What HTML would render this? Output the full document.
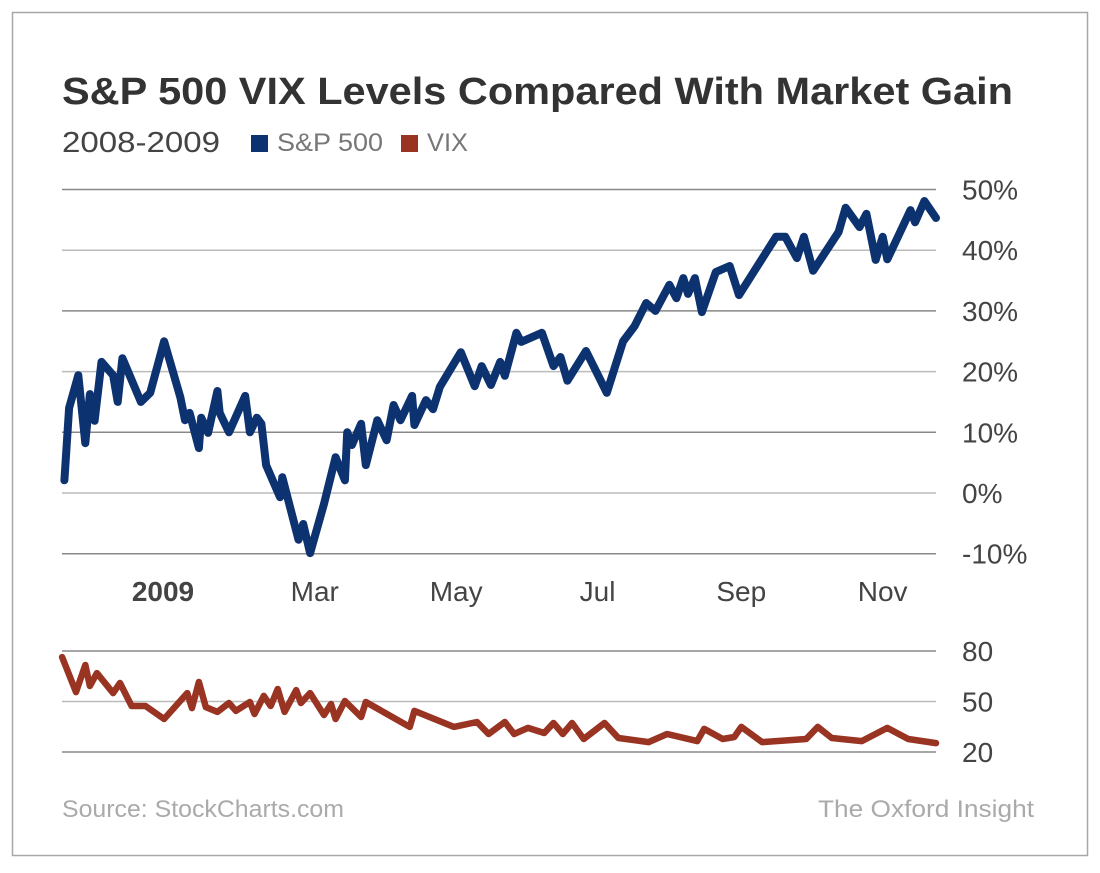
<!DOCTYPE html>
<html><head><meta charset="utf-8"><style>
body{margin:0;background:#fff;width:1100px;height:868px;overflow:hidden;font-family:"Liberation Sans",Arial,sans-serif}
</style></head><body>
<svg id="chart" width="1100" height="868" xmlns="http://www.w3.org/2000/svg">
<rect x="12.5" y="12.5" width="1075" height="843" fill="#fff" stroke="#a8a8a8" stroke-width="1.5"/>
<text x="62" y="104" font-size="38" font-weight="bold" fill="#333" textLength="951" lengthAdjust="spacingAndGlyphs">S&amp;P 500 VIX Levels Compared With Market Gain</text>
<text x="62" y="152" font-size="29" fill="#444" textLength="158" lengthAdjust="spacingAndGlyphs">2008-2009</text>
<rect x="251" y="135" width="17" height="17" fill="#0d3270"/>
<text x="277" y="151" font-size="25" fill="#777" textLength="106" lengthAdjust="spacingAndGlyphs">S&amp;P 500</text>
<rect x="401" y="135" width="17" height="17" fill="#993322"/>
<text x="427" y="151" font-size="25" fill="#777" textLength="41" lengthAdjust="spacingAndGlyphs">VIX</text>
<g id="grid"></g>
<g id="marks"></g>
<text x="62" y="817" font-size="24" fill="#aaa" textLength="282" lengthAdjust="spacingAndGlyphs">Source: StockCharts.com</text>
<text x="818" y="817" font-size="24" fill="#aaa" textLength="216" lengthAdjust="spacingAndGlyphs">The Oxford Insight</text>
</svg>
<script>
// S&P 500 % gain (days from Jan 1 2009)
const spDays=[-49,-47,-43,-40,-38,-36,-33,-28,-26,-24,-16,-12,-6,1,3,5,9,10,13,17,18,22,29,31,34,36,38,44,45,52,54,57,63,68,72,73,75,79,81,86,90,93,96,101,102,107,110,113,122,128,131,135,139,141,146,148,157,162,165,168,176,185,192,197,202,206,212,215,218,220,223,226,232,238,242,258,262,267,270,274,285,288,294,297,301,304,306,316,318,322,327];
const spValues=[2.1,14.0,19.4,8.2,16.3,11.9,21.6,19.4,15.0,22.2,15.0,16.5,25.0,15.8,12.0,13.2,7.4,12.4,9.9,16.8,13.2,10.0,16.0,10.0,12.4,11.4,4.6,-0.7,2.6,-7.7,-5.1,-9.9,-1.8,5.9,2.1,10.0,7.9,11.4,4.6,12.0,8.7,14.5,12.0,16.0,11.2,15.3,13.8,17.5,23.2,17.6,20.9,17.8,21.6,19.3,26.4,24.9,26.4,20.9,22.4,18.5,23.4,16.5,25.0,27.5,31.3,30.0,34.3,32.1,35.4,32.8,35.4,29.8,36.4,37.4,32.6,42.2,42.2,38.7,42.2,36.6,43.0,47.0,43.8,46.0,38.4,42.2,38.5,46.6,44.6,48.1,45.3];
const vixDays=[-50,-44,-40,-38,-35,-28,-25,-20,-14,-6,4,6,9,12,17,22,25,31,33,37,40,43,46,51,53,57,63,66,68,72,79,81,100,102,119,129,134,141,145,151,158,162,166,170,175,184,190,203,211,224,227,235,240,243,252,271,276,282,295,306,315,327];
const vixValues=[76.4,55.6,71.7,59.2,66.9,55.0,61.0,47.3,47.3,39.6,55.0,46.1,61.6,46.7,43.8,49.1,44.4,49.7,42.6,53.3,47.3,57.4,43.8,56.8,49.1,55.0,42.0,48.5,39.6,50.3,40.8,49.7,34.9,44.4,34.9,37.8,30.7,37.8,30.7,34.3,31.3,37.2,30.7,37.2,27.7,37.2,28.3,25.9,30.7,26.5,33.7,27.7,28.9,34.9,25.9,27.7,34.9,28.3,26.5,34.3,27.7,25.3];
const spTicks=[50,40,30,20,10,0,-10];
const spTickLabels=["50%","40%","30%","20%","10%","0%","-10%"];
const vixTicks=[80,50,20];
const monthDays=[0,59,120,181,243,304];
const monthLabels=["2009","Mar","May","Jul","Sep","Nov"];

const NS="http://www.w3.org/2000/svg";
const xS=d=>178+d*2.318;
const ySp=v=>493-v*6.07;
const yVix=v=>752-(v-20)*101/60;
const grid=document.getElementById('grid'),marks=document.getElementById('marks');
function mk(tag,attrs,parent){const e=document.createElementNS(NS,tag);for(const k in attrs)e.setAttribute(k,attrs[k]);parent.appendChild(e);return e;}
spTicks.forEach((t,i)=>{
  const l=mk('line',{x1:62,x2:936,y1:ySp(t),y2:ySp(t),stroke:i%2?'#bbb':'#888','stroke-width':1.5},grid);
  
  
  const tx=mk('text',{x:962,y:ySp(t)+10,'font-size':28,fill:'#444'},grid);
  tx.textContent=spTickLabels[i];
  
  
});
vixTicks.forEach((t,i)=>{
  const l=mk('line',{x1:62,x2:936,y1:yVix(t),y2:yVix(t),stroke:i%2?'#bbb':'#888','stroke-width':1.5},grid);
  
  
  const tx=mk('text',{x:962,y:yVix(t)+10,'font-size':28,fill:'#444'},grid);
  tx.textContent=String(t);
  
  
});
monthDays.forEach((d,i)=>{
  const tx=mk('text',{x:xS(d)+(i==0?-15:0),y:601,'font-size':28,fill:'#444','text-anchor':'middle','font-weight':i==0?'bold':'normal'},grid);
  tx.textContent=monthLabels[i];
  
  
});
const spPts=spDays.map((d,i)=>xS(d).toFixed(1)+','+ySp(spValues[i]).toFixed(1)).join(' ');
const sp=mk('polyline',{points:spPts,fill:'none',stroke:'#0d3270','stroke-width':8,'stroke-linejoin':'round','stroke-linecap':'round'},marks);


const vixPts=vixDays.map((d,i)=>xS(d).toFixed(1)+','+yVix(vixValues[i]).toFixed(1)).join(' ');
const vx=mk('polyline',{points:vixPts,fill:'none',stroke:'#993322','stroke-width':6.5,'stroke-linejoin':'round','stroke-linecap':'round'},marks);


</script>
</body></html>
